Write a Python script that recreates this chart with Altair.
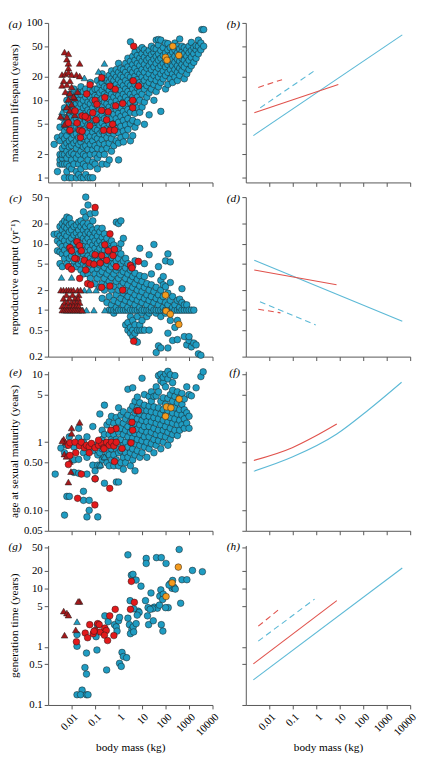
import altair as alt
import pandas as pd

FONT = "Liberation Serif"
BLUE = "#1f9cc2"
RED = "#e2191b"
DRED = "#a4191b"
ORANGE = "#f39a1e"
LBLUE = "#5cb9d6"
LRED = "#e0524c"
W, H = 168, 163

# ---------------- data (body mass kg, trait value) ----------------
XVALS = [0.01, 0.1, 1, 10, 100, 1000, 10000]
XLABS = ["0.01", "0.1", "1", "10", "100", "1000", "10000"]

# (a) maximum lifespan (years) - dense cloud as (mass, [values])
a_blue_cols = [
    (0.0018, [2.7]), (0.0025, [1.2, 3.3]), (0.0032, [1.5, 1.7, 2.0, 3.0, 4.5]),
    (0.004, [1.5, 1.8, 2.0, 2.4, 3.5, 6.0]), (0.005, [1.0, 1.5, 2.0, 2.6, 3.2, 4.0, 5.0, 8.0]),
    (0.0063, [1.2, 1.5, 1.8, 2.2, 2.8, 3.5, 4.5, 6.0, 7.5, 10]),
    (0.008, [1.0, 1.4, 2.0, 2.5, 3.0, 4.0, 5.0, 6.5, 9, 12]),
    (0.01, [1.0, 1.3, 1.7, 2.1, 2.6, 3.2, 3.9, 4.8, 6.0, 7.5, 9.5, 12]),
    (0.0126, [1.5, 2.0, 2.8, 3.6, 4.4, 5.5, 7, 8.5, 11, 14]),
    (0.016, [1.0, 1.2, 1.8, 2.4, 3.0, 3.7, 4.6, 5.8, 7.2, 9, 11]),
    (0.02, [1.1, 1.5, 2.0, 2.7, 3.3, 4.2, 5.2, 6.5, 8, 10, 13]),
    (0.025, [1.0, 1.3, 1.7, 2.2, 2.9, 3.6, 4.5, 5.5, 7, 9, 12, 15]),
    (0.032, [1.0, 1.5, 2.0, 2.5, 3.2, 4.0, 5.0, 6.2, 8, 10, 13]),
    (0.04, [1.1, 1.4, 1.9, 2.6, 3.4, 4.3, 5.4, 6.8, 8.5, 11, 14]),
    (0.05, [1.0, 1.7, 2.3, 3.0, 3.8, 4.8, 6, 7.5, 9.5, 12]),
    (0.063, [1.0, 1.4, 2.0, 2.7, 3.4, 4.4, 5.5, 7, 9, 11, 14, 17]),
    (0.08, [1.0, 1.6, 2.3, 3.0, 3.9, 5, 6.3, 8, 10, 13]),
    (0.1, [1.5, 2.0, 2.6, 3.4, 4.3, 5.5, 7, 9, 11.5, 14]),
    (0.126, [1.3, 1.8, 2.4, 3.2, 4.1, 5.2, 6.6, 8.5, 11, 14, 18]),
    (0.16, [2.0, 2.8, 3.7, 4.8, 6, 7.7, 10, 12.5, 16]),
    (0.2, [1.5, 2.3, 3.1, 4.0, 5.1, 6.5, 8.3, 10.5, 13.5, 17, 22]),
    (0.25, [2.0, 2.7, 3.6, 4.6, 5.8, 7.4, 9.5, 12, 15, 19]),
    (0.32, [1.5, 2.4, 3.3, 4.3, 5.5, 7, 9, 11.5, 14.5, 18]),
    (0.4, [1.7, 2.8, 3.8, 5, 6.4, 8.2, 10.5, 13.5, 17, 21]),
    (0.5, [2.2, 3.2, 4.4, 5.8, 7.4, 9.5, 12, 15, 19, 24]),
    (0.63, [2.6, 3.7, 5, 6.6, 8.5, 11, 14, 18, 22]),
    (0.8, [3.0, 4.3, 5.8, 7.6, 9.8, 12.5, 16, 20, 25]),
    (1.0, [1.7, 2.8, 3.8, 5.2, 6.8, 8.8, 11.5, 14.5, 18.5, 23, 30]),
    (1.26, [3.3, 4.6, 6.2, 8, 10.5, 13.5, 17, 21, 26]),
    (1.6, [2.9, 4.0, 5.5, 7.2, 9.5, 12, 15.5, 20, 25]),
    (2.0, [3.5, 4.8, 6.5, 8.5, 11, 14, 18, 23, 30]),
    (2.5, [4.2, 5.8, 7.6, 10, 13, 16.5, 21, 27, 35]),
    (3.2, [3.0, 5, 7, 9.2, 12, 15.5, 20, 25, 32, 57]),
    (4.0, [3.5, 5.5, 8.2, 11, 14, 18, 23, 29, 37]),
    (5.0, [4.5, 6.8, 9.5, 12.5, 16, 20.5, 26, 33, 42]),
    (6.3, [5.2, 8, 11, 14.5, 18.5, 23.5, 30, 38]),
    (8.0, [7.0, 10, 13, 17, 22, 28, 35, 45]),
    (10, [8.2, 12, 16, 20, 25, 32, 40, 48]),
    (12.6, [4.9, 9.5, 14, 18, 23, 29, 36, 45]),
    (16, [11, 15.5, 20, 26, 33, 41]),
    (20, [6.5, 12.5, 17, 22, 28, 35, 44]),
    (25, [14, 19, 25, 31, 39, 50]),
    (32, [10, 16, 21, 27, 34, 42, 47]),
    (40, [13, 18, 23, 30, 37, 46, 60]),
    (50, [15, 20, 26, 33, 40, 52, 61]),
    (63, [7.2, 17, 22, 28, 35, 44, 60]),
    (80, [19, 24, 30, 38, 48]),
    (100, [14, 21, 27, 33, 41, 55]),
    (126, [16, 23, 29, 36, 45, 54]),
    (160, [19, 25, 31, 38, 48]),
    (200, [17, 22, 28, 34, 42]),
    (250, [20, 25, 31, 37, 45, 55]),
    (320, [18, 23, 28, 34, 41, 50]),
    (400, [21, 26, 32, 38, 46, 62]),
    (500, [24, 29, 35, 42, 50]),
    (630, [19, 27, 33, 40, 48]),
    (800, [22, 30, 37, 45]),
    (1000, [25, 33, 41, 50]),
    (1260, [28, 36, 44, 56]),
    (1600, [31, 40, 48]),
    (2000, [35, 45, 51]),
    (2500, [40, 50, 60]),
    (3200, [45, 55]),
    (3500, [82]),
    (4200, [82, 50]),
]
a_blue_tri = [(0.035, 19.5), (0.14, 23.6), (0.19, 19.5), (0.25, 30), (0.0039, 7.1), (0.0054, 4.9)]
a_red_tri = [(0.005, 42), (0.0073, 40), (0.0063, 34), (0.0073, 30), (0.022, 30), (0.0073, 26),
             (0.0039, 21.5), (0.0054, 22), (0.0073, 23), (0.01, 21.5), (0.016, 21.5), (0.022, 20.6),
             (0.0046, 17.9), (0.0085, 17.9), (0.0039, 15.6), (0.0063, 15.9), (0.01, 14.9),
             (0.0054, 12.9), (0.0085, 12.4), (0.0137, 10.7), (0.0073, 10.3), (0.01, 8.9),
             (0.0063, 8.2), (0.0085, 7.4), (0.0034, 6.2), (0.0063, 6.1), (0.0137, 6.5),
             (0.005, 4.9), (0.012, 11.2), (0.018, 12.9)]
a_red = [(4.4, 50), (0.19, 19.6), (0.061, 15.9), (0.43, 15.3), (0.72, 13.9), (4.2, 17.9),
         (7.1, 15.3), (0.044, 12.1), (0.26, 10.9), (0.1, 10), (0.12, 8.9), (1.5, 9.1), (4.0, 10),
         (0.75, 8.5), (4.0, 8.0), (0.014, 7.3), (0.028, 6.3), (0.08, 6.9), (0.19, 7.4), (0.36, 7.1),
         (0.048, 5.9), (0.0073, 5.1), (0.017, 5.1), (0.038, 6.2), (0.11, 5.6), (0.31, 5.6),
         (0.56, 4.9), (0.0085, 4.1), (0.022, 4.1), (0.028, 4.0), (0.23, 4.1), (0.43, 4.1),
         (0.67, 4.1), (0.024, 3.3), (0.06, 4.7)]
a_orange = [(204, 50), (100, 36), (115, 33), (370, 38)]

# (c) reproductive output (per year)
c_blue_cols = [
    (0.0018, [13.8]), (0.0025, [7.8, 11, 14]), (0.0032, [5, 7.5, 10, 13, 18]),
    (0.004, [4.5, 7, 9, 12, 16, 20]), (0.005, [6, 8, 11, 14, 18, 22]),
    (0.0063, [5, 7, 9.5, 13, 17, 21, 25]), (0.008, [6, 8.5, 11, 15, 19, 24]),
    (0.01, [4.5, 6.5, 9, 12, 16, 20]), (0.0126, [5.5, 7.5, 10, 13.5, 18]),
    (0.016, [4.5, 6, 8, 11, 14.5, 19]), (0.02, [5, 7, 9.5, 12.5, 16, 21]),
    (0.025, [4, 5.5, 7.5, 10, 13.5, 18, 22]), (0.032, [3.5, 5, 7, 9, 12, 16, 20, 30]),
    (0.04, [4.5, 6, 8, 11, 14, 18, 25, 50]), (0.05, [3.5, 5, 6.5, 9, 12, 15, 20, 38]),
    (0.063, [3, 4.5, 6, 8, 10.5, 14, 18, 28]), (0.08, [4, 5.5, 7, 9.5, 12.5, 16, 22]),
    (0.1, [2.5, 3.5, 5, 6.5, 8.5, 11, 14.5, 29]), (0.126, [3, 4.2, 5.5, 7.5, 10, 13, 17]),
    (0.16, [2.2, 3.5, 4.8, 6.5, 8.5, 11, 15]), (0.2, [1.5, 2.5, 3.8, 5.2, 7, 9.5, 12.5, 17]),
    (0.25, [2, 3, 4.4, 6, 8, 10.5, 14]), (0.32, [1.3, 2.4, 3.5, 5, 6.8, 9, 12]),
    (0.4, [1.0, 1.6, 2.7, 4, 5.5, 7.5, 10]), (0.5, [1.0, 1.2, 2.0, 3.1, 4.5, 6.2, 8.5, 11]),
    (0.63, [0.9, 1.0, 1.4, 2.3, 3.5, 5, 7, 9.5]), (0.8, [1.0, 1.1, 1.7, 2.7, 4, 5.5, 7.5, 21]),
    (1.0, [1.0, 1.3, 2.0, 3.0, 4.4, 6, 8.5, 20]), (1.26, [1.0, 1.5, 2.3, 3.4, 5, 7, 10, 22]),
    (1.6, [1.0, 1.2, 1.8, 2.6, 3.8, 5.5, 12]), (2.0, [0.6, 1.0, 1.4, 2.0, 3.0, 4.3, 6]),
    (2.5, [0.5, 0.65, 1.0, 1.1, 1.6, 2.4, 3.5, 5]), (3.2, [0.45, 0.55, 0.8, 1.0, 1.3, 1.9, 2.8, 4]),
    (4.0, [0.4, 0.5, 0.7, 1.0, 1.5, 2.2, 3.2, 4.6]), (5.0, [0.35, 0.45, 0.6, 1.0, 1.2, 1.7, 2.5, 3.6, 5.5]),
    (6.3, [0.33, 0.5, 0.8, 1.0, 1.4, 2.0, 2.9]), (8.0, [0.5, 0.6, 1.0, 1.1, 1.6, 2.3, 3.3, 8.5]),
    (10, [0.5, 0.7, 0.9, 1.0, 1.3, 1.9, 2.7]), (12.6, [0.5, 1.0, 1.5, 2.2, 3.2, 5.0]),
    (16, [0.8, 1.0, 1.2, 1.7, 2.5]), (20, [0.5, 0.9, 1.0, 1.4, 2.0, 6.8]),
    (25, [1.0, 1.1, 1.6, 2.4, 3.5]), (32, [1.0, 1.3, 1.9, 9.7]),
    (40, [0.23, 0.9, 1.0, 1.5, 2.2]), (50, [0.29, 1.0, 1.2, 1.7, 4.5]),
    (63, [0.27, 0.8, 1.0, 1.4, 2.0, 2.8]), (80, [1.0, 1.1, 1.6, 2.4, 3.2]),
    (100, [0.9, 1.0, 1.3, 2.25, 5.5]), (126, [0.27, 0.45, 1.0, 1.2, 1.8, 7.0]),
    (160, [0.7, 1.0, 1.4, 2.6, 5.3]), (200, [0.35, 1.0, 1.1, 1.6]),
    (250, [0.55, 1.0, 1.2]), (320, [0.36, 0.7, 1.0, 1.4]), (400, [1.0, 1.1, 1.46]),
    (500, [1.0, 1.3, 2.1]), (630, [0.4, 1.0, 1.2]), (800, [0.3, 1.0, 1.2]),
    (1000, [0.35, 0.4, 1.0]), (1260, [0.28, 1.0]), (1600, [0.32, 1.0]),
    (2000, [0.3]), (2500, [0.22]), (3200, [0.21]),
]
c_blue_tri = [(0.0037, 3.1), (0.01, 3.1), (0.035, 2.0), (0.056, 2.0), (0.11, 2.0),
              (0.03, 1.0), (0.043, 1.0), (0.089, 1.0), (0.26, 1.0)]
c_red_tri = [(0.0035, 2.0), (0.0045, 2.0), (0.006, 2.0), (0.0075, 2.0), (0.0095, 2.0),
             (0.012, 2.0), (0.018, 2.0), (0.024, 2.0), (0.006, 1.7), (0.011, 1.7), (0.02, 1.7),
             (0.0045, 1.5), (0.008, 1.5), (0.014, 1.5), (0.019, 1.5), (0.005, 1.3), (0.007, 1.3),
             (0.01, 1.3), (0.013, 1.3), (0.017, 1.3), (0.022, 1.3), (0.004, 1.15), (0.006, 1.15),
             (0.009, 1.15), (0.012, 1.15), (0.016, 1.15), (0.02, 1.15), (0.004, 1.0), (0.005, 1.0),
             (0.006, 1.0), (0.007, 1.0), (0.0085, 1.0), (0.01, 1.0), (0.012, 1.0), (0.014, 1.0),
             (0.017, 1.0), (0.02, 1.0), (0.024, 1.0), (0.028, 1.0)]
c_red = [(0.1, 35), (0.43, 14), (0.017, 10.7), (0.022, 9.3), (0.0085, 8.7), (0.01, 7.8),
         (0.026, 7.8), (0.26, 9.6), (0.67, 8.2), (0.36, 7.8), (0.19, 6.6), (0.1, 6.8), (0.016, 5.9),
         (0.035, 5.6), (0.056, 5.1), (0.089, 4.9), (0.165, 5.1), (0.31, 5.6), (0.58, 6.6),
         (0.79, 4.5), (0.0073, 4.5), (0.01, 4.1), (3.2, 4.7), (3.7, 4.3), (7.0, 5.4), (0.022, 3.0),
         (0.048, 2.5), (0.065, 2.4), (0.19, 2.2), (0.43, 2.3), (1.5, 2.0), (4.4, 0.34),
         (0.0137, 6.0), (0.04, 4.0)]
c_orange = [(100, 1.68), (105, 0.97), (160, 0.87), (370, 0.61)]

# (e) age at sexual maturity (years)
e_blue_cols = [
    (0.002, [0.34]), (0.0035, [0.82]), (0.005, [0.085, 0.7]), (0.0063, [0.16, 0.9]),
    (0.008, [0.16, 1.2]), (0.0126, [0.36, 0.55, 0.85]), (0.02, [0.35, 0.56, 1.15, 1.6]),
    (0.032, [0.14, 0.19, 0.7, 1.0]), (0.045, [0.08, 0.34, 0.6, 1.2]), (0.056, [0.1, 0.14]),
    (0.08, [0.46, 0.75, 1.7]), (0.1, [0.29, 0.38, 0.9]), (0.13, [0.08, 0.46, 0.65]),
    (0.16, [0.45, 0.7, 1.0, 2.6]), (0.2, [0.55, 0.8, 1.1, 1.5]), (0.25, [0.25, 0.6, 0.9, 1.3, 3.5]),
    (0.32, [0.5, 0.7, 1.0, 1.8]), (0.4, [0.45, 0.65, 0.9, 1.3, 2.0]),
    (0.5, [0.55, 0.8, 1.1, 1.5, 2.4]), (0.63, [0.45, 0.65, 0.95, 1.3, 1.9]),
    (0.8, [0.26, 0.55, 0.8, 1.1, 1.6, 2.3]), (1.0, [0.26, 0.45, 0.7, 1.0, 1.4, 2.0, 3.2]),
    (1.26, [0.5, 0.75, 1.1, 1.6, 2.5]), (1.6, [0.4, 0.6, 0.9, 1.3, 1.9, 2.8]),
    (2.0, [0.5, 0.7, 1.0, 1.5, 2.2]), (2.5, [0.6, 0.85, 1.2, 1.7, 2.5, 6.0]),
    (3.2, [0.45, 0.7, 1.0, 1.4, 2.0, 3.0]), (4.0, [0.55, 0.8, 1.15, 1.6, 2.3, 3.4, 6.3]),
    (5.0, [0.38, 0.65, 0.95, 1.35, 1.9, 2.7, 4.0]), (6.3, [0.75, 1.1, 1.55, 2.2, 3.2, 4.6]),
    (8.0, [0.6, 0.9, 1.3, 1.8, 2.6, 3.8]), (10, [0.7, 1.05, 1.5, 2.1, 3.0, 8.7]),
    (12.6, [0.85, 1.2, 1.7, 2.4, 3.5, 5.0]), (16, [0.6, 1.0, 1.4, 2.0, 2.9]),
    (20, [0.8, 1.2, 1.7, 2.4, 3.4, 4.7]), (25, [0.95, 1.4, 2.0, 2.8, 4.0, 5.5]),
    (32, [0.7, 1.1, 1.6, 2.3, 3.3, 4.7]), (40, [0.9, 1.3, 1.9, 2.7, 4.8, 6.5]),
    (50, [1.05, 1.5, 2.2, 3.2, 5.5, 9.5]), (63, [0.8, 1.25, 1.8, 2.6, 4.0, 8.0, 10]),
    (80, [1.0, 1.5, 2.1, 3.0, 4.5, 7.5, 9.0]), (100, [1.2, 1.7, 2.5, 3.6, 6.5, 10]),
    (126, [0.9, 1.4, 2.0, 2.9, 4.4, 8.5, 11]), (160, [1.1, 1.6, 2.3, 3.4, 5.0, 9.8]),
    (200, [1.3, 1.9, 2.7, 4.0, 5.8, 7.5]), (250, [1.5, 2.2, 3.2, 4.7, 9.5]),
    (320, [1.25, 1.8, 2.6, 3.8, 5.5]), (400, [1.5, 2.1, 3.0, 4.5]),
    (500, [1.8, 2.5, 3.6, 5.2]), (630, [1.6, 2.2, 3.0, 4.3]), (800, [1.9, 2.7, 6.5]),
    (1000, [1.6, 2.4, 5.0]), (1260, [4.8]), (2000, [6.3]), (3200, [9.2]), (4000, [10.8]),
]
e_blue_tri = [(0.17, 0.47), (0.25, 0.61)]
e_red_tri = [(0.022, 1.96), (0.01, 1.62), (0.01, 1.35), (0.0046, 1.11), (0.0055, 1.0),
             (0.004, 1.05), (0.0049, 0.67), (0.006, 0.62), (0.0085, 0.52), (0.0094, 0.37),
             (0.0073, 0.26)]
e_red = [(0.0073, 0.9), (0.0085, 0.98), (0.014, 1.0), (0.022, 0.88), (0.026, 1.0), (0.035, 0.83),
         (0.043, 0.9), (0.056, 0.86), (0.07, 0.96), (0.1, 0.83), (0.14, 0.9), (0.19, 0.96),
         (0.23, 0.83), (0.31, 1.0), (0.4, 0.9), (0.5, 1.0), (0.63, 0.88), (0.8, 1.0), (0.015, 0.7),
         (0.056, 0.7), (0.24, 0.8), (0.14, 1.07), (6, 2.9), (7, 2.9), (3.7, 1.96), (4, 1.5),
         (0.78, 1.58), (0.47, 1.5), (3.4, 0.98), (1.4, 0.81), (0.67, 0.52), (0.0073, 0.47),
         (0.0085, 0.64), (0.026, 0.34), (0.1, 0.29), (0.42, 0.21), (0.018, 0.15), (0.098, 0.12)]
e_orange = [(110, 3.3), (170, 3.2), (380, 4.3), (100, 2.4)]

# (g) generation time (years)
g_blue = [(2.5, 38), (15, 33), (15, 27), (41, 34), (66, 34), (105, 27), (380, 47), (1400, 20.5),
          (3700, 19.5), (3.5, 17), (4.1, 17.6), (5.6, 14), (9, 11), (3.1, 6.2), (14, 6.2),
          (24, 8.4), (63, 9.5), (57, 7.4), (160, 12.2), (190, 10.1), (200, 13.8), (500, 14.2),
          (810, 14.2), (440, 5.6), (18, 4.7), (33, 4.8), (45, 4.6), (55, 5.2), (130, 4.7),
          (28, 4.5), (22, 4.4), (100, 4.7), (6.8, 4.1), (7.5, 3.9), (6.2, 3.5), (2.5, 3.1),
          (2.9, 2.4), (3.7, 2.0), (3.2, 1.68), (4.2, 2.2), (4.4, 1.8), (5.6, 2.5), (4.4, 4.5),
          (19, 2.4), (30, 2.8), (66, 2.4), (77, 1.86), (17, 3.4), (0.26, 3.4), (0.36, 2.7),
          (0.67, 2.4), (0.8, 2.2), (1.0, 2.8), (1.1, 3.2), (0.86, 1.86), (0.125, 2.4),
          (0.11, 1.49), (0.017, 1.62), (0.017, 1.02), (0.043, 0.78), (0.12, 0.88), (0.037, 0.44),
          (0.043, 0.34), (0.31, 0.40), (1.1, 0.52), (1.4, 0.80), (1.6, 0.68), (2.2, 0.65),
          (1.3, 0.46), (0.017, 0.15), (0.028, 0.18), (0.024, 0.15), (0.043, 0.15), (0.05, 0.15),
          (230, 10.5), (260, 9.8), (140, 11.5), (80, 8.0), (75, 6.5)]
g_blue_tri = [(0.017, 2.7)]
g_red_tri = [(0.0046, 4.1), (0.0063, 3.8), (0.0073, 3.5), (0.022, 6.0), (0.019, 6.0),
             (0.005, 1.58), (0.015, 1.95)]
g_red = [(3.5, 13.3), (4.7, 5.8), (3.2, 4.4), (0.72, 4.4), (0.42, 3.4), (0.059, 2.4), (0.13, 2.5),
         (0.15, 2.4), (0.1, 1.9), (0.17, 1.79), (0.26, 2.1), (0.3, 1.9), (0.25, 1.58), (0.34, 1.28),
         (0.63, 1.56), (0.038, 1.72), (0.048, 1.43), (0.083, 1.68), (0.09, 1.85), (0.016, 1.22)]
g_orange = [(350, 23.4), (190, 12.5), (105, 7.3)]

# right-hand panels: fitted lines (mass, value)
b_blue_solid = [(0.0021, 3.5), (4600, 70)]
b_red_solid = [(0.0023, 6.9), (8.7, 16)]
b_blue_dash = [(0.0041, 8.0), (1.0, 25)]
b_red_dash = [(0.0034, 14.7), (0.035, 18.5)]
d_blue_solid = [(0.0023, 5.6), (4600, 0.68)]
d_red_solid = [(0.0023, 4.0), (7.3, 2.4)]
d_blue_dash = [(0.004, 1.34), (0.95, 0.6)]
d_red_dash = [(0.0034, 1.03), (0.03, 0.91)]
f_blue_curve = [(0.0022, 0.375), (0.095, 0.605), (7.5, 1.32), (170, 3.0), (4300, 7.6)]
f_red_curve = [(0.0022, 0.54), (0.095, 0.83), (0.85, 1.21), (7.5, 1.85)]
h_blue_solid = [(0.0021, 0.27), (4600, 22.6)]
h_red_solid = [(0.0021, 0.51), (7.5, 6.2)]
h_blue_dash = [(0.0034, 1.25), (0.85, 6.6)]
h_red_dash = [(0.0034, 2.26), (0.026, 4.4)]

# y axes per row: domain, tick values, tick labels, title
rows = [
    dict(dom=[0.87, 100], vals=[1, 2, 5, 10, 20, 50, 100], labs=["1", "2", "5", "10", "20", "50", "100"],
         title="maximum lifespan (years)"),
    dict(dom=[0.2, 50], vals=[0.2, 0.5, 1, 2, 5, 10, 20, 50],
         labs=["0.2", "0.5", "1", "2", "5", "10", "20", "50"], title="reproductive output (yr\u207b\u00b9)"),
    dict(dom=[0.05, 11], vals=[0.05, 0.1, 0.5, 1, 5, 10], labs=["0.05", "0.10", "0.50", "1", "5", "10"],
         title="age at sexual maturity (years)"),
    dict(dom=[0.1, 55], vals=[0.1, 0.5, 1, 5, 10, 20, 50], labs=["0.1", "0.5", "1", "5", "10", "20", "50"],
         title="generation time (years)"),
]


def pairs_df(pairs):
    return pd.DataFrame({"m": [p[0] for p in pairs], "v": [p[1] for p in pairs]})


def cols_df(cols):
    ms, vs = [], []
    for m, vals in cols:
        for v in vals:
            ms.append(m)
            vs.append(v)
    return pd.DataFrame({"m": ms, "v": vs})


def lab_expr(vals, labs):
    return ("[" + ",".join("'%s'" % l for l in labs) + "][indexof([" +
            ",".join(repr(v) for v in vals) + "], datum.value)]")


def enc(row, bottom, left):
    xax = alt.Axis(values=XVALS, labels=bottom, labelExpr=lab_expr(XVALS, XLABS), labelAngle=-45,
                   labelFlush=False, labelOverlap=False, tickSize=4, titlePadding=4)
    yax = alt.Axis(values=row["vals"], labels=left, labelExpr=lab_expr(row["vals"], row["labs"]),
                   labelFlush=False, labelOverlap=False, tickSize=4, labelPadding=2,
                   titleX=-29, titleBaseline="bottom")
    x = alt.X("m:Q", scale=alt.Scale(type="log", domain=[0.001, 10000], nice=False), axis=xax,
              title="body mass (kg)" if bottom else None)
    y = alt.Y("v:Q", scale=alt.Scale(type="log", domain=row["dom"], nice=False), axis=yax,
              title=row["title"] if left else None)
    return x, y


def letter(txt, xpos):
    return alt.Chart(pd.DataFrame({"t": [txt]})).mark_text(
        font=FONT, fontSize=11.5, fontStyle="italic", align="right", baseline="top", color="black"
    ).encode(text="t:N", x=alt.value(xpos), y=alt.value(-4))


def scatter(row, bottom, lab, blue_df, btri, rtri, red, orange):
    x, y = enc(row, bottom, True)
    common = dict(filled=True, stroke="#1a1a1a", strokeWidth=0.5, size=46, opacity=1)
    layers = [
        alt.Chart(blue_df).mark_point(shape="circle", fill=BLUE, **common).encode(x=x, y=y),
        alt.Chart(pairs_df(btri)).mark_point(shape="triangle-up", fill=BLUE, **common).encode(x=x, y=y),
        alt.Chart(pairs_df(rtri)).mark_point(shape="triangle-up", fill=DRED, **common).encode(x=x, y=y),
        alt.Chart(pairs_df(red)).mark_point(shape="circle", fill=RED, **common).encode(x=x, y=y),
        alt.Chart(pairs_df(orange)).mark_point(shape="circle", fill=ORANGE, **common).encode(x=x, y=y),
        letter(lab, -27),
    ]
    return alt.layer(*layers).properties(width=W, height=H)


def lines(row, bottom, lab, series):
    x, y = enc(row, bottom, False)
    layers = []
    for pts, color, dashed, curve in series:
        kw = dict(color=color, strokeWidth=1.1)
        if dashed:
            kw["strokeDash"] = [6, 4]
        if curve:
            kw["interpolate"] = "monotone"
        layers.append(alt.Chart(pairs_df(pts)).mark_line(**kw).encode(x=x, y=y))
    layers.append(letter(lab, -6))
    return alt.layer(*layers).properties(width=W, height=H)


pa = scatter(rows[0], False, "(a)", cols_df(a_blue_cols), a_blue_tri, a_red_tri, a_red, a_orange)
pb = lines(rows[0], False, "(b)", [(b_blue_solid, LBLUE, False, False), (b_red_solid, LRED, False, False),
                                    (b_blue_dash, LBLUE, True, False), (b_red_dash, LRED, True, False)])
pc = scatter(rows[1], False, "(c)", cols_df(c_blue_cols), c_blue_tri, c_red_tri, c_red, c_orange)
pd_ = lines(rows[1], False, "(d)", [(d_blue_solid, LBLUE, False, False), (d_red_solid, LRED, False, False),
                                     (d_blue_dash, LBLUE, True, False), (d_red_dash, LRED, True, False)])
pe = scatter(rows[2], False, "(e)", cols_df(e_blue_cols), e_blue_tri, e_red_tri, e_red, e_orange)
pf = lines(rows[2], False, "(f)", [(f_blue_curve, LBLUE, False, True), (f_red_curve, LRED, False, True)])
pg = scatter(rows[3], True, "(g)", pairs_df(g_blue), g_blue_tri, g_red_tri, g_red, g_orange)
ph = lines(rows[3], True, "(h)", [(h_blue_solid, LBLUE, False, False), (h_red_solid, LRED, False, False),
                                   (h_blue_dash, LBLUE, True, False), (h_red_dash, LRED, True, False)])

chart = alt.concat(pa, pb, pc, pd_, pe, pf, pg, ph, columns=2, bounds="flush", align="all",
                   spacing={"row": 15, "column": 34}).resolve_scale(
    x="independent", y="independent"
).properties(
    padding={"left": 0, "top": 0, "right": 0, "bottom": 0},
    autosize=alt.AutoSizeParams(type="pad"),
    background="white",
).configure(
    padding={"left": 0, "top": 0, "right": 0, "bottom": 0}
).configure_view(
    stroke="transparent"
).configure_axis(
    grid=False, labelFont=FONT, titleFont=FONT, labelFontSize=11, titleFontSize=11.5,
    titleFontWeight="normal", labelColor="black", titleColor="black",
    domainColor="#555555", tickColor="#555555", domainWidth=1, tickWidth=1
)

chart.save("out.html", embed_options={"renderer": "svg", "actions": False})
